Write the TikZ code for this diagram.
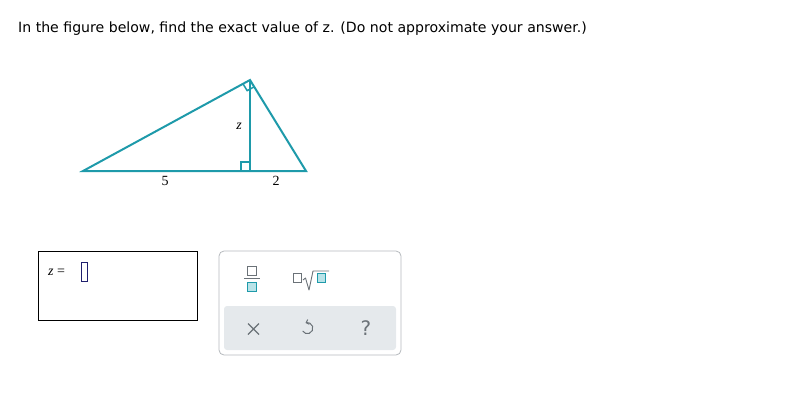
\documentclass[tikz,border=0pt]{standalone}
\usepackage{fontspec}
\setmainfont{DejaVu Sans}
\newfontfamily\serifface{Liberation Serif}
\usetikzlibrary{calc,positioning,arrows.meta}
\definecolor{teal1}{HTML}{1E9AAA}
\definecolor{tealfill}{HTML}{B9E3E8}
\definecolor{panelgray}{HTML}{E5E9EC}
\definecolor{bordergray}{HTML}{B5B9BD}
\definecolor{icongray}{HTML}{6B7278}
\definecolor{cursorblue}{HTML}{1F1F6E}
\tikzset{side/.style={draw=teal1,line width=2pt},
         lbl/.style={font=\serifface\fontsize{14}{14}\selectfont,inner sep=1pt},
         smallbox/.style={draw=icongray,line width=0.8pt,minimum size=8.5pt,inner sep=0pt},
         tealbox/.style={draw=teal1,fill=tealfill,line width=1pt,minimum size=8.5pt,inner sep=0pt}}
\begin{document}
\begin{tikzpicture}[x=1pt,y=-1pt]
  \useasboundingbox (0,0) rectangle (804,413);
  % question
  \node[anchor=west,font=\fontsize{14.1}{16}\selectfont,inner sep=0pt] (q) at (18,29)
    {In the figure below, find the exact value of z. (Do not approximate your answer.)};

  % triangle
  \coordinate (L) at (83,171);
  \coordinate (F) at (250,171);
  \coordinate (R) at (306,171);
  \coordinate (A) at (250,80);
  \draw[side,line join=miter] (L) -- (A) -- (R) -- cycle;
  \draw[side] (A) -- (F);
  % right angle marks
  \draw[draw=teal1,line width=1.5pt] ($(F)+(-9,0)$) -- ++(0,-9) -- ++(9,0);
  \draw[draw=teal1,line width=1.5pt] ($(A)!8pt!(L)$) -- ($(A)!8pt!(L)+(A)!8pt!(R)-(A)$) -- ($(A)!8pt!(R)$);
  \node[lbl] (five) at (165,181) {5};
  \node[lbl] (two) at (276,181) {2};
  \node[lbl,font=\serifface\itshape\fontsize{14}{14}\selectfont] (zlab) at (239,126) {z};

  % answer box
  \node[draw=black,line width=0.9pt,minimum width=159pt,minimum height=69pt,inner sep=0pt] (ans) at (117.5,285.5) {};
  \node[lbl,anchor=west] (zeq) at (47,272) {\textit{z} =};
  \node[draw=cursorblue,line width=0.8pt,minimum width=6pt,minimum height=19pt,inner sep=0pt] (cur) at (84,272) {};

  % keypad panel
  \node[draw=bordergray,line width=0.8pt,rounded corners=5pt,minimum width=182pt,minimum height=104pt,inner sep=0pt] (panel) at (310,303) {};
  \node[fill=panelgray,rounded corners=3pt,minimum width=172pt,minimum height=44pt,inner sep=0pt] (band) at (310,328) {};
  % fraction key
  \node[smallbox] (num) at (252,271) {};
  \node[tealbox] (den) at (252,287) {};
  \draw[icongray,line width=0.9pt] (244,278.5) -- (260,278.5);
  % root key
  \node[smallbox] (idx) at (297.5,278) {};
  \node[tealbox] (rad) at (321.5,278) {};
  \draw[icongray,line width=0.9pt,line join=round] (303,280) -- (305.5,278) -- (309,290) -- (313,271) -- (329,271);
  % action keys
  \draw[icongray,line width=1.1pt] (248,323.5) -- (259,334.5) (248,334.5) -- (259,323.5);
  \draw[icongray,line width=1pt,{Straight Barb[length=2.5pt,width=5pt]}-] (305.5,323) arc[start angle=110,end angle=-150,radius=5.5pt];
  \node[font=\fontsize{20}{20}\selectfont,text=icongray] (help) at (366,328) {?};
\end{tikzpicture}
\end{document}
